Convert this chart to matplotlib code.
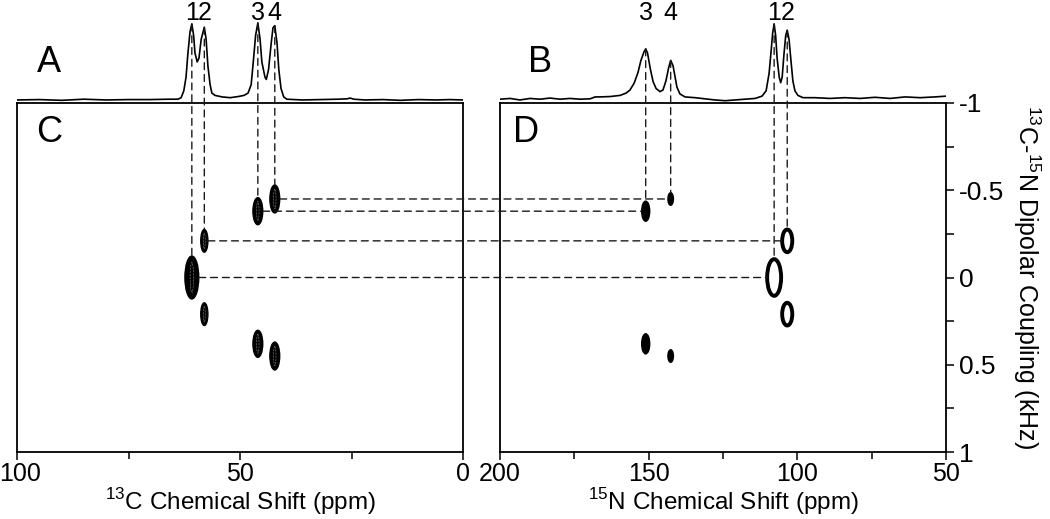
import numpy as np
import matplotlib
matplotlib.use('Agg')
import matplotlib.pyplot as plt
from matplotlib.patches import Ellipse, ConnectionPatch
from matplotlib.ticker import MultipleLocator
from matplotlib.transforms import blended_transform_factory, ScaledTranslation

plt.rcParams['font.family'] = ['Liberation Sans', 'DejaVu Sans']
plt.rcParams['mathtext.fontset'] = 'custom'
plt.rcParams['mathtext.rm'] = 'Liberation Sans'
plt.rcParams['axes.unicode_minus'] = False

# 1D 13C spectrum (A)
c13_ppm = [100.0, 95.0, 90.0, 85.0, 80.0, 75.0, 70.2, 66.0, 63.9, 63.2, 62.6, 62.1, 61.7,
           61.2, 60.8, 60.4, 60.1, 59.6, 59.2, 58.7, 58.0, 57.6, 57.2, 56.7, 56.3, 55.6,
           54.0, 52.2, 50.4, 49.1, 48.2, 47.5, 47.1, 46.5, 46.0, 45.5, 45.1, 44.4, 44.1,
           43.6, 43.0, 42.6, 42.2, 41.7, 41.3, 40.8, 40.2, 39.5, 36.0, 32.0, 28.0, 26.0,
           25.3, 24.5, 22.0, 18.0, 14.0, 10.0, 6.0, 3.0, 0.0]
c13_int = [0.0, 0.005, -0.005, 0.01, 0.0, 0.005, 0.005, 0.01, 0.01, 0.03, 0.12, 0.3, 0.6,
           0.9, 1.0, 0.85, 0.62, 0.5, 0.55, 0.8, 0.956, 0.8, 0.45, 0.2, 0.09, 0.06,
           0.04, 0.03, 0.045, 0.06, 0.09, 0.2, 0.45, 0.85, 1.013, 0.8, 0.5, 0.3, 0.27,
           0.4, 0.75, 0.95, 0.977, 0.75, 0.4, 0.15, 0.04, 0.01, 0.0, 0.005, 0.01, 0.015,
           0.025, 0.01, 0.0, 0.005, -0.005, 0.005, 0.0, 0.005, 0.0]

# 1D 15N spectrum (B)
n15_ppm = [200.0, 196.6, 193.3, 189.9, 186.5, 183.2, 179.8, 176.5, 173.1, 169.7, 168.0,
           166.4, 163.0, 159.6, 157.6, 156.3, 154.9, 153.6, 152.6, 151.6, 151.0, 150.4,
           149.4, 148.5, 147.5, 146.2, 145.2, 144.2, 143.3, 142.6, 141.8, 141.1, 140.5,
           139.5, 137.8, 134.4, 131.1, 127.7, 124.3, 121.0, 117.6, 114.2, 111.9, 110.5,
           109.5, 108.8, 108.3, 107.8, 107.3, 106.8, 106.1, 105.6, 105.1, 104.5, 103.9,
           103.4, 102.8, 102.1, 101.5, 100.8, 99.8, 98.1, 94.1, 89.0, 84.0, 78.9, 73.9,
           68.8, 63.8, 58.7, 53.7, 50.0]
n15_int = [0.01, 0.02, 0.0, 0.02, 0.01, 0.025, 0.01, 0.02, 0.01, 0.015, 0.04,
           0.04, 0.045, 0.06, 0.09, 0.13, 0.22, 0.36, 0.52, 0.63, 0.672, 0.62,
           0.4, 0.24, 0.15, 0.11, 0.13, 0.25, 0.42, 0.52, 0.45, 0.3, 0.17,
           0.08, 0.04, 0.03, 0.015, 0.0, -0.01, 0.0, 0.01, 0.02, 0.05, 0.12,
           0.35, 0.65, 0.88, 1.0, 0.85, 0.55, 0.3, 0.227, 0.3, 0.6, 0.85,
           0.917, 0.8, 0.5, 0.25, 0.12, 0.06, 0.03, 0.03, 0.02, 0.03, 0.02, 0.035,
           0.02, 0.04, 0.03, 0.04, 0.05]

# 2D cross peaks per site (1..4)
sites = ['1', '2', '3', '4']
site_c13 = [60.8, 58.0, 46.0, 42.2]
site_n15 = [107.8, 103.4, 151.0, 142.6]
site_dc = [0.0, 0.21, 0.38, 0.45]          # dipolar splitting, kHz (peaks at +/-)
c_width = [3.1, 1.6, 2.2, 2.2]              # 13C linewidth, ppm
c_height = [0.246, 0.13, 0.155, 0.16]       # kHz
n_width = [4.7, 3.4, 2.7, 1.85]             # 15N linewidth, ppm
n_height = [0.21, 0.13, 0.115, 0.072]       # kHz

y_ticks = [-1, -0.5, 0, 0.5, 1]
y_ticklabels = ['-1', '-0.5', '0', '0.5', '1']
c_ticks = [100, 50, 0]
n_ticks = [200, 150, 100, 50]

W, H = 1050, 519
fig = plt.figure(figsize=(10.5, 5.19), dpi=100)


def box(x0, y0, x1, y1):
    return [x0 / W, 1 - y1 / H, (x1 - x0) / W, (y1 - y0) / H]


axC = fig.add_axes(box(17, 103, 463, 452))
axD = fig.add_axes(box(500, 103, 946, 452))
axA = fig.add_axes(box(17, 13, 463, 103))
axB = fig.add_axes(box(500, 13, 946, 103))

# 1D spectra
for ax, x, y, lim in [(axA, c13_ppm, c13_int, (100, 0)), (axB, n15_ppm, n15_int, (200, 50))]:
    ax.plot(x, y, color='black', lw=1.2)
    ax.set_xlim(*lim)
    ax.set_ylim(-0.04, 1.144)
    ax.axis('off')

# 2D panels
for ax, lim, ticks in [(axC, (100, 0), c_ticks), (axD, (200, 50), n_ticks)]:
    ax.set_xlim(*lim)
    ax.set_ylim(1, -1)
    ax.set_xticks(ticks)
    ax.xaxis.set_minor_locator(MultipleLocator(25))
    ax.tick_params(axis='x', which='major', direction='out', length=6, width=1.1,
                   labelsize=18, pad=1.5)
    ax.tick_params(axis='x', which='minor', direction='out', length=5, width=1.1)
    for s in ax.spines.values():
        s.set_linewidth(1.3)

# keep the leftmost "100" inside the canvas
first = axC.get_xticklabels()[0]
first.set_transform(first.get_transform() + ScaledTranslation(3 / 100, 0, fig.dpi_scale_trans))

axC.set_yticks([])
axD.set_yticks(y_ticks)
axD.set_yticklabels(y_ticklabels)
axD.yaxis.set_minor_locator(MultipleLocator(0.25))
axD.yaxis.tick_right()
axD.yaxis.set_label_position('right')
axD.tick_params(axis='y', which='both', direction='out', length=5.5, width=1.1,
                labelsize=19, pad=4)
axD.set_ylabel('$^{13}$C-$^{15}$N Dipolar Coupling (kHz)', fontsize=18,
               rotation=-90, labelpad=27)

axC.set_xlabel('$^{13}$C Chemical Shift (ppm)', fontsize=17.5, labelpad=0)
axD.set_xlabel('$^{15}$N Chemical Shift (ppm)', fontsize=17.5, labelpad=0)

# cross peaks (filled blobs with faint inner contour rings)
for i in range(4):
    offs = [0.0] if site_dc[i] == 0 else [-site_dc[i], site_dc[i]]
    for dc in offs:
        axC.add_patch(Ellipse((site_c13[i], dc), c_width[i], c_height[i],
                              facecolor='black', edgecolor='black', lw=1, zorder=3))
        axC.add_patch(Ellipse((site_c13[i], dc), c_width[i] * 0.25, c_height[i] * 0.7,
                              facecolor='none', edgecolor='white', lw=0.4,
                              linestyle=':', zorder=4))
        if i < 2:
            axD.add_patch(Ellipse((site_n15[i], dc), n_width[i], n_height[i],
                                  facecolor='white', edgecolor='black', lw=2.8, zorder=3))
        else:
            axD.add_patch(Ellipse((site_n15[i], dc), n_width[i], n_height[i],
                                  facecolor='black', edgecolor='black', lw=1, zorder=3))

# dashed guide lines
dash = dict(linestyle=(0, (5, 3.5)), lw=1.0, color='#1a1a1a')
c_sorted = np.argsort(c13_ppm)
n_sorted = np.argsort(n15_ppm)
for i in range(4):
    top_c = np.interp(site_c13[i], np.array(c13_ppm)[c_sorted], np.array(c13_int)[c_sorted])
    top_n = np.interp(site_n15[i], np.array(n15_ppm)[n_sorted], np.array(n15_int)[n_sorted])
    fig.add_artist(ConnectionPatch(xyA=(site_c13[i], top_c), coordsA='data', axesA=axA,
                                   xyB=(site_c13[i], -site_dc[i] - c_height[i] / 2),
                                   coordsB='data', axesB=axC, **dash))
    fig.add_artist(ConnectionPatch(xyA=(site_n15[i], top_n), coordsA='data', axesA=axB,
                                   xyB=(site_n15[i], -site_dc[i] - n_height[i] / 2),
                                   coordsB='data', axesB=axD, **dash))
    fig.add_artist(ConnectionPatch(xyA=(site_c13[i] - c_width[i] / 2, -site_dc[i]),
                                   coordsA='data', axesA=axC,
                                   xyB=(site_n15[i] + n_width[i] / 2, -site_dc[i]),
                                   coordsB='data', axesB=axD, **dash))

# site numbers above the 1D peaks
for ax, xs in [(axA, site_c13), (axB, site_n15)]:
    tr = blended_transform_factory(ax.transData, fig.transFigure)
    for s, x in zip(sites, xs):
        ax.text(x, 1 - 13 / H, s, transform=tr, ha='center', va='center', fontsize=18)

# panel letters
for s, (x, y) in zip('ABCD', [(49, 62), (540, 63), (49, 133), (526, 133)]):
    fig.text(x / W, 1 - y / H, s, ha='center', va='center', fontsize=26)

fig.savefig('out.png', dpi=100)
